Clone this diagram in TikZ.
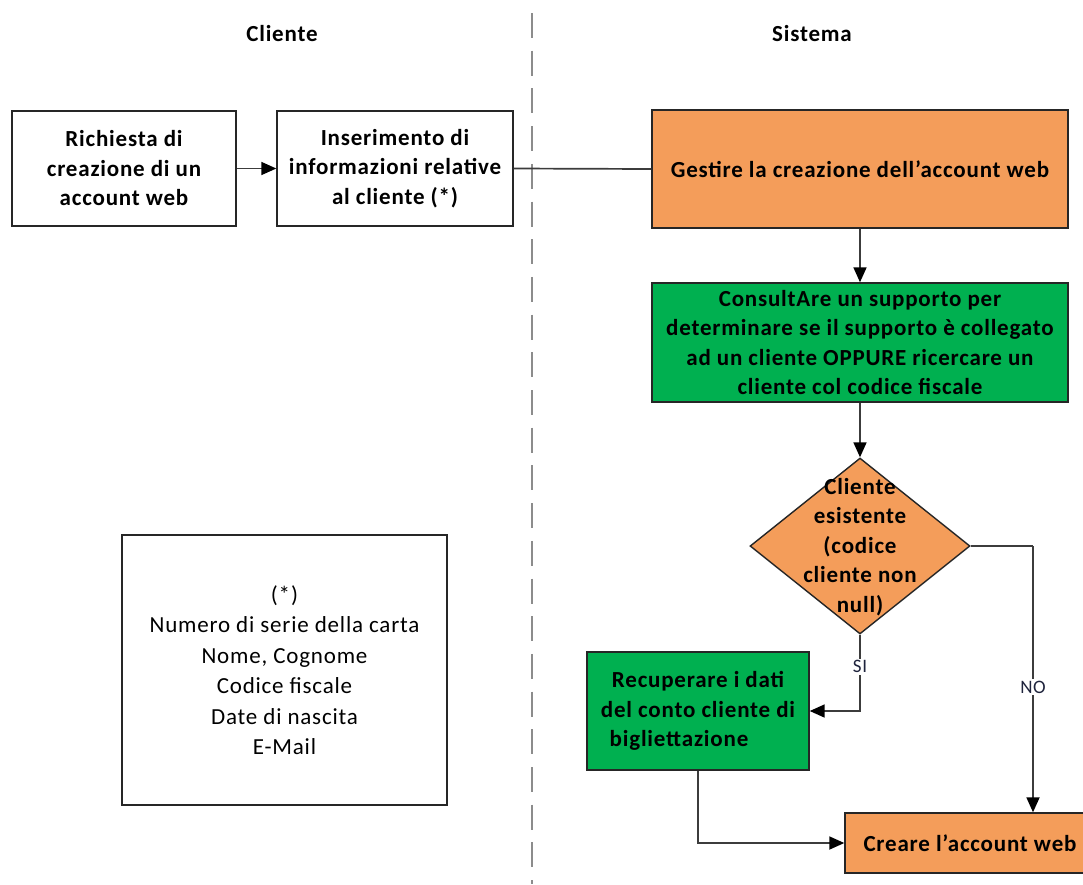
\documentclass[tikz,border=0pt]{standalone}
\usepackage{fontspec}
\setmainfont{Carlito}[LetterSpace=3.5]
\usetikzlibrary{arrows.meta,shapes.geometric}
\definecolor{boxorange}{RGB}{244,157,90}
\definecolor{boxgreen}{RGB}{0,176,80}
\definecolor{linegray}{RGB}{60,60,60}
\definecolor{dashgray}{RGB}{140,140,140}
\definecolor{labelcol}{RGB}{30,35,60}
\tikzset{
  x=1pt, y=-1pt,
  boxbase/.style={draw=black!85, line width=1.4pt, inner sep=0pt, align=center,
    font=\fontsize{23}{29.5}\selectfont\bfseries},
  whitebox/.style={boxbase, fill=white},
  orangebox/.style={boxbase, fill=boxorange},
  greenbox/.style={boxbase, fill=boxgreen},
  decision/.style={diamond, draw=black!85, line width=1.4pt, fill=boxorange, inner sep=0pt},
  legendbox/.style={draw=black!85, line width=1.4pt, fill=white, inner sep=0pt, align=center,
    font=\fontsize{23}{30.5}\selectfont},
  header/.style={font=\fontsize{23}{26}\selectfont\bfseries},
  conn/.style={draw=linegray, line width=1.7pt},
  arrowconn/.style={conn, -{Triangle[length=15pt,width=13pt,color=black]}},
  edgelabel/.style={fill=white, text=labelcol, inner sep=2pt, font=\fontsize{19}{22}\selectfont},
  lane/.style={draw=dashgray, line width=2.5pt, dash pattern=on 25pt off 12.7pt},
}
\begin{document}
\begin{tikzpicture}
\clip (0,0) rectangle (1083,884);
\fill[white] (0,0) rectangle (1083,884);

% swimlane separator
\coordinate (laneTop) at (532,13);
\coordinate (laneBot) at (532,884);
\draw[lane] (laneTop) -- (laneBot);

% headers
\node[header] (hCliente) at (282,34) {Cliente};
\node[header] (hSistema) at (812,34) {Sistema};

% client boxes
\node[whitebox, minimum width=224pt, minimum height=115pt] (b1) at (124,168.5)
  {Richiesta di\\creazione di un\\account web};
\node[whitebox, minimum width=236pt, minimum height=115pt] (b2) at (395,168.5)
  {Inserimento di\\informazioni relative\\al cliente (*)};

% system boxes
\node[orangebox, minimum width=416pt, minimum height=118pt] (o1) at (860,169)
  {Gestire la creazione dell’account web};
\node[greenbox, minimum width=416pt, minimum height=119pt] (g1) at (860,342.5)
  {ConsultAre un supporto per\\determinare se il supporto è collegato\\ad un cliente OPPURE ricercare un\\cliente col codice fiscale};
\node[decision, minimum width=220pt, minimum height=176pt] (dec) at (860,546) {};
\node[align=center, inner sep=0pt, font=\fontsize{23}{29.5}\selectfont\bfseries] (dectext) at (860,547)
  {Cliente\\esistente\\(codice\\cliente non\\null)};
\node[greenbox, minimum width=222pt, minimum height=118pt] (g2) at (698,711)
  {Recuperare i dati\\del conto cliente di\\bigliettazione\rule{38pt}{0pt}};
\node[orangebox, minimum width=250pt, minimum height=60pt] (o2) at (970,843)
  {Creare l’account web};

% legend
\node[legendbox, minimum width=325pt, minimum height=270pt] (legend) at (284.5,670)
  {(*)\\Numero di serie della carta\\Nome, Cognome\\Codice fiscale\\Date di nascita\\E-Mail};

% connectors
\draw[arrowconn] (b1.east) -- (b2.west);
\draw[conn] (b2.east) -- (o1.west);
\draw[arrowconn] (o1.south) -- (g1.north);
\draw[arrowconn] (g1.south) -- (dec.north);
\draw[arrowconn] (dec.south) |- node[edgelabel, pos=0.21] {SI} (g2.east);
\coordinate (noBend) at (1033,546);
\draw[conn] (dec.east) -- (noBend);
\draw[arrowconn] (noBend) -- node[edgelabel, pos=0.53] {NO} (noBend |- o2.north);
\draw[arrowconn] (g2.south) |- (o2.west);
\end{tikzpicture}
\end{document}
